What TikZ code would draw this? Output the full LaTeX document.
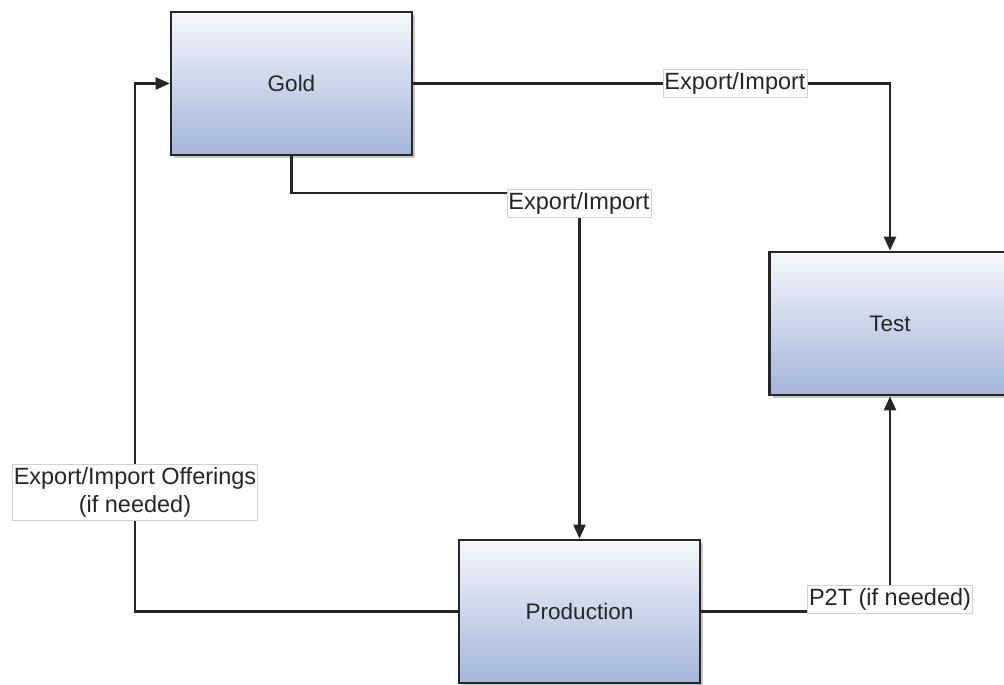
\documentclass[tikz,border=0pt]{standalone}
\usepackage{fontspec}
\setmainfont{Liberation Sans}
\usetikzlibrary{arrows.meta,shadows}
\definecolor{boxtop}{HTML}{F5F7FC}
\definecolor{boxbot}{HTML}{A3B5DA}
\definecolor{ink}{HTML}{262626}
\begin{document}
\begin{tikzpicture}[x=1pt,y=-1pt,
  envbox/.style={draw=ink, line width=2.6pt, top color=boxtop, bottom color=boxbot,
    minimum width=241pt, minimum height=143pt, inner sep=0pt,
    font=\fontsize{22.5}{26}\selectfont, text=ink,
    drop shadow={shadow xshift=3pt, shadow yshift=-3pt, fill=black, opacity=0.22}},
  link/.style={draw=ink, line width=2.3pt},
  arr/.style={link, -{Triangle[length=14pt,width=12pt]}},
  tag/.style={fill=white, draw=black!18, line width=0.8pt, inner xsep=1.5pt, inner ysep=3pt,
    font=\fontsize{23.5}{28}\selectfont, text=ink, align=center}]
\useasboundingbox (0,0) rectangle (1004,685);

\node[envbox] (gold) at (291.5,83.5) {Gold};
\node[envbox] (test) at (890,323.5) {Test};
\node[envbox] (prod) at (579.5,611.5) {Production};

\coordinate (lft) at (135,611.5);

\draw[arr] (gold.east) -| (test.north);
\draw[arr] (gold.south) -- ++(0,37) -| (prod.north);
\draw[arr] (prod.west) -- (lft) |- (gold.west);
\draw[arr] (prod.east) -| (test.south);

\node[tag] (l1) at (735,83) {Export/Import};
\node[tag] (l2) at (579,203) {Export/Import};
\node[tag] (l3) at (135,492) {Export/Import Offerings\\(if needed)};
\node[tag] (l4) at (890,599) {P2T (if needed)};
\end{tikzpicture}
\end{document}
